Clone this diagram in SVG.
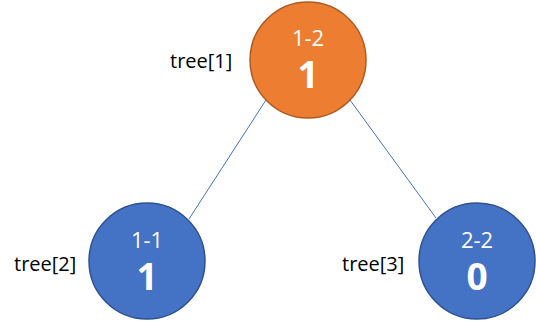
<svg xmlns="http://www.w3.org/2000/svg" width="536" height="323" viewBox="0 0 536 323">
<style>
.lbl{font-family:"Open Sans","Noto Sans",sans-serif;font-size:20px;fill:#000}
.rng{font-family:"Open Sans","Noto Sans",sans-serif;font-size:22px;fill:#fff;text-anchor:middle}
.val{font-family:"Open Sans","Noto Sans",sans-serif;font-size:37px;font-weight:bold;fill:#fff;text-anchor:middle}
.blue{fill:#4472C4;stroke:#2F528F;stroke-width:1.5}
.orange{fill:#ED7D31;stroke:#AE5A21;stroke-width:1.5}
.edge{stroke:#4472C4;stroke-width:1;fill:none}
</style>
<g id="connectors">
<line class="edge" x1="266" y1="100" x2="189" y2="219"/>
<line class="edge" x1="350" y1="100" x2="436" y2="218"/>
</g>
<g id="node1">
<circle class="orange" cx="308" cy="60" r="58"/>
<text class="rng" x="308" y="46">1-2</text>
<text class="val" x="308" y="88">1</text>
<text class="lbl" x="170" y="68">tree[1]</text>
</g>
<g id="node2">
<circle class="blue" cx="147" cy="261" r="58"/>
<text class="rng" x="147" y="248">1-1</text>
<text class="val" x="147" y="290">1</text>
<text class="lbl" x="14" y="271">tree[2]</text>
</g>
<g id="node3">
<circle class="blue" cx="477" cy="261" r="58"/>
<text class="rng" x="477" y="248">2-2</text>
<text class="val" x="477" y="290">0</text>
<text class="lbl" x="342" y="271">tree[3]</text>
</g>
</svg>
